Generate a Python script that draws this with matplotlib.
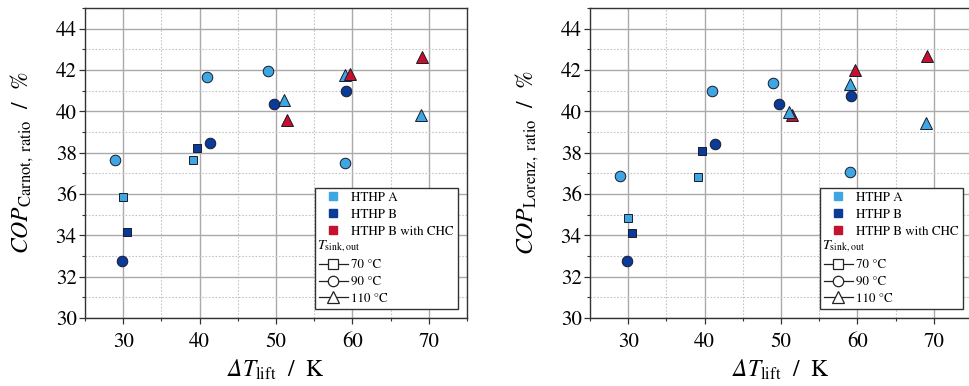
import matplotlib
matplotlib.use("Agg")
import matplotlib.pyplot as plt
from matplotlib.lines import Line2D
from matplotlib.legend_handler import HandlerBase
import matplotlib.text as mtext
from matplotlib.ticker import MultipleLocator

plt.rcParams['font.family'] = ['STIXGeneral', 'DejaVu Sans']
plt.rcParams['mathtext.fontset'] = 'custom'
plt.rcParams['mathtext.rm'] = 'STIXGeneral'
plt.rcParams['mathtext.it'] = 'STIXGeneral:italic'
plt.rcParams['mathtext.bf'] = 'STIXGeneral:bold'
plt.rcParams['mathtext.sf'] = 'STIXGeneral:italic'
plt.rcParams['mathtext.fallback'] = 'stix'

# ---- data: x = temperature lift (K) ----
a_sq_x = [30.0, 39.1]
a_ci_x = [28.95, 41.0, 49.0, 59.0]
a_tr_x = [51.0, 59.0, 69.0]
b_sq_x = [39.7, 30.45]
b_ci_x = [29.85, 41.35, 49.7, 59.2]
c_tr_x = [51.5, 59.75, 69.15]

# left panel: COP Carnot ratio (%)
carnot_a_sq = [35.85, 37.63]
carnot_a_ci = [37.63, 41.67, 41.94, 37.48]
carnot_a_tr = [40.53, 41.76, 39.80]
carnot_b_sq = [38.23, 34.16]
carnot_b_ci = [32.74, 38.46, 40.37, 40.97]
carnot_c_tr = [39.59, 41.83, 42.62]

# right panel: COP Lorenz ratio (%)
lorenz_a_sq = [34.84, 36.82]
lorenz_a_ci = [36.85, 40.99, 41.39, 37.08]
lorenz_a_tr = [39.95, 41.31, 39.45]
lorenz_b_sq = [38.10, 34.13]
lorenz_b_ci = [32.78, 38.44, 40.34, 40.76]
lorenz_c_tr = [39.80, 41.99, 42.70]

series_labels = ['HTHP A', 'HTHP B', 'HTHP B with CHC']
temp_labels = ['70 °C', '90 °C', '110 °C']
x_ticks = [30, 40, 50, 60, 70]
y_ticks = [30, 32, 34, 36, 38, 40, 42, 44]

col_a = '#3ea6e3'
col_b = '#0a3b98'
col_c = '#c5102e'
edge = '#1a1a2a'

W, H = 969, 386
fig = plt.figure(figsize=(W / 100, H / 100), dpi=100)
ax1 = fig.add_axes([85 / W, 68 / H, 382 / W, 310 / H])
ax2 = fig.add_axes([590 / W, 68 / H, 382 / W, 310 / H])


class TextHandle:
    def __init__(self, text):
        self.text = text


class TextHandler(HandlerBase):
    def legend_artist(self, legend, orig_handle, fontsize, handlebox):
        t = mtext.Text(-handlebox.xdescent - 1.0, 2.0, orig_handle.text,
                       fontsize=fontsize + 0.8, va='baseline', ha='left',
                       family='STIXGeneral')
        handlebox.add_artist(t)
        return t


def draw(ax, ys, ylabel, chc_first):
    a_sq, a_ci, a_tr, b_sq, b_ci, c_tr = ys
    ms_sq, ms_ci, ms_tr = 6.0, 7.6, 8.4
    mew = 0.7
    kw = dict(ls='none', mec=edge, mew=mew)
    if chc_first:
        ax.plot(c_tr_x, c_tr, marker='^', ms=ms_tr, mfc=col_c, zorder=3, **kw)
    ax.plot(a_sq_x, a_sq, marker='s', ms=ms_sq, mfc=col_a, zorder=3, **kw)
    ax.plot(a_ci_x, a_ci, marker='o', ms=ms_ci, mfc=col_a, zorder=3, **kw)
    ax.plot(a_tr_x, a_tr, marker='^', ms=ms_tr, mfc=col_a, zorder=3, **kw)
    ax.plot(b_sq_x, b_sq, marker='s', ms=ms_sq, mfc=col_b, zorder=3, **kw)
    ax.plot(b_ci_x, b_ci, marker='o', ms=ms_ci, mfc=col_b, zorder=3, **kw)
    if not chc_first:
        ax.plot(c_tr_x, c_tr, marker='^', ms=ms_tr, mfc=col_c, zorder=3, **kw)

    ax.set_xlim(25, 75)
    ax.set_ylim(30, 45)
    ax.set_xticks(x_ticks)
    ax.set_yticks(y_ticks)
    ax.xaxis.set_minor_locator(MultipleLocator(5))
    ax.yaxis.set_minor_locator(MultipleLocator(1))
    ax.grid(which='major', color='#aaaaaa', lw=1.0, ls='-', zorder=0)
    ax.grid(which='minor', color='#c4c4c4', lw=0.8, ls=(0, (1.5, 1.5)), zorder=0)
    ax.set_axisbelow(True)
    ax.tick_params(which='major', direction='out', length=4, width=0.9,
                   labelsize=15, color='#333333', pad=2)
    ax.tick_params(axis='x', which='major', pad=6)
    ax.tick_params(which='minor', direction='out', length=2.5, width=0.8,
                   color='#333333')
    for s in ax.spines.values():
        s.set_color('#333333')
        s.set_linewidth(1.0)

    ax.set_xlabel(r'$\mathsf{\Delta}\mathit{T}_{\mathrm{lift}}$  /  K', fontsize=17, labelpad=4)
    ax.set_ylabel(ylabel, fontsize=17, labelpad=14)

    handles = [
        Line2D([], [], ls='none', marker='s', ms=6, mfc=col_a, mec=col_a),
        Line2D([], [], ls='none', marker='s', ms=6, mfc=col_b, mec=col_b),
        Line2D([], [], ls='none', marker='s', ms=6, mfc=col_c, mec=col_c),
        TextHandle(r'$T_{\mathrm{sink,out}}$'),
        Line2D([], [], color='#222222', lw=0.9, marker='s', ms=7, mfc='white', mec='#222222', mew=0.9),
        Line2D([], [], color='#222222', lw=0.9, marker='o', ms=7.5, mfc='white', mec='#222222', mew=0.9),
        Line2D([], [], color='#222222', lw=0.9, marker='^', ms=8, mfc='white', mec='#222222', mew=0.9),
    ]
    labels = series_labels + [''] + temp_labels
    leg = ax.legend(handles, labels, loc='lower right', fontsize=9.4,
                    frameon=True, fancybox=False, edgecolor='#333333',
                    framealpha=1.0, borderpad=0.3, labelspacing=0.36,
                    handlelength=2.2, handletextpad=0.3, borderaxespad=0.7,
                    numpoints=1, handler_map={TextHandle: TextHandler()})
    leg.get_frame().set_linewidth(1.0)


draw(ax1, (carnot_a_sq, carnot_a_ci, carnot_a_tr, carnot_b_sq, carnot_b_ci, carnot_c_tr),
     r'$\mathit{COP}_{\mathrm{Carnot,\ ratio}}$  /  %', chc_first=False)
draw(ax2, (lorenz_a_sq, lorenz_a_ci, lorenz_a_tr, lorenz_b_sq, lorenz_b_ci, lorenz_c_tr),
     r'$\mathit{COP}_{\mathrm{Lorenz,\ ratio}}$  /  %', chc_first=True)

fig.savefig('out.png', dpi=100)
